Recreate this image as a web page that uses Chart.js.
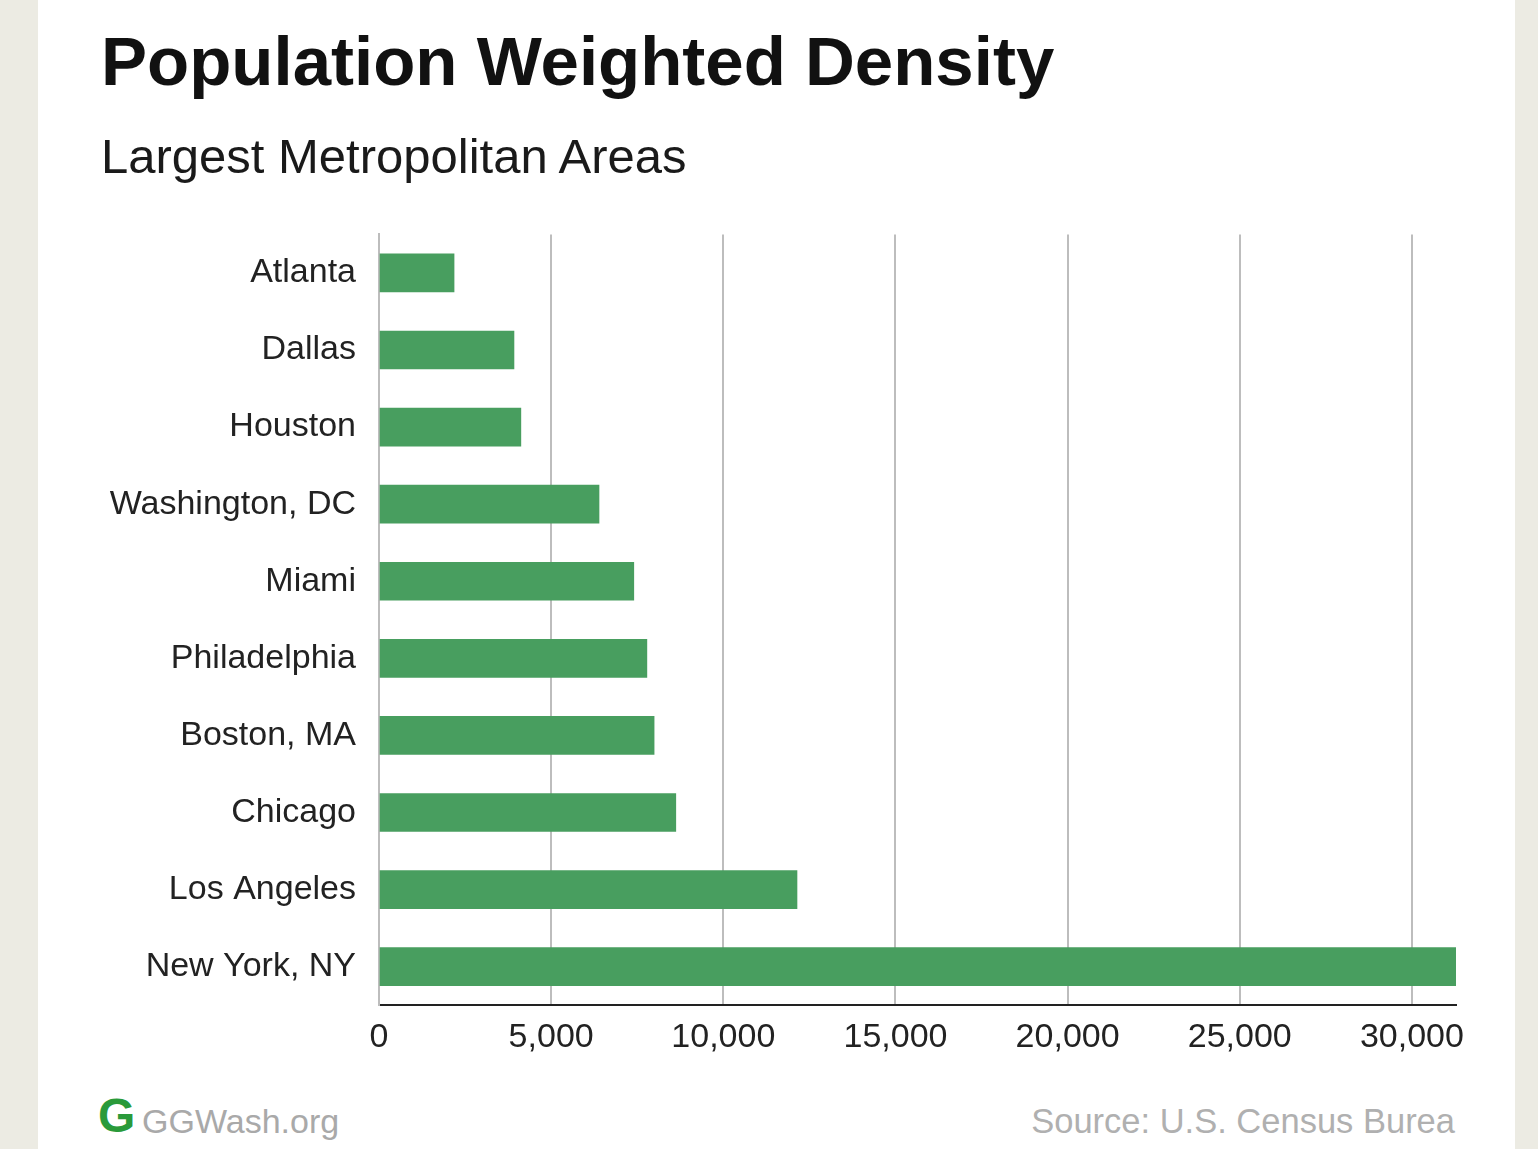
<!DOCTYPE html>
<html lang="en">
<head>
    <meta charset="UTF-8">
    <title>Population Weighted Density</title>
    <script src="https://cdn.jsdelivr.net/npm/chart.js"></script>
    <style>
        body { margin: 0; background: #ecebe3; font-family: "Liberation Sans", Arial, sans-serif; }
        #card { position: absolute; left: 38px; top: 0; width: 1477px; height: 1149px; background: #fff; }
        .txt { position: absolute; white-space: nowrap; }
        #title { left: 101px; top: 22px; font-size: 69px; font-weight: bold; color: #111; }
        #subtitle { left: 101px; top: 128px; font-size: 49px; color: #1a1a1a; }
        #logo { left: 98px; top: 1088px; font-size: 48px; font-weight: bold; color: #2a9a3a; }
        #site { left: 142px; top: 1102px; font-size: 34px; color: #a9a9a9; }
        #source { right: 83px; top: 1102px; font-size: 34.5px; color: #b0b0b0; }
        #wrap { position: absolute; left: 100px; top: 191px; width: 1380px; height: 879px; }
    </style>
</head>
<body>
    <div id="card"></div>
    <div class="txt" id="title">Population Weighted Density</div>
    <div class="txt" id="subtitle">Largest Metropolitan Areas</div>
    <div id="wrap"><canvas id="densityChart"></canvas></div>
    <div class="txt" id="logo">G</div>
    <div class="txt" id="site">GGWash.org</div>
    <div class="txt" id="source">Source: U.S. Census Burea</div>

    <script>
        // 도시 이름과 인구가중밀도
        const cities = ['Atlanta', 'Dallas', 'Houston', 'Washington, DC', 'Miami',
                        'Philadelphia', 'Boston, MA', 'Chicago', 'Los Angeles', 'New York, NY'];
        const density = [2180, 3920, 4120, 6390, 7400, 7780, 7990, 8620, 12140, 31280];
        const tickValues = [0, 5000, 10000, 15000, 20000, 25000, 30000];

        const ctx = document.getElementById('densityChart').getContext('2d');

        new Chart(ctx, {
            type: 'bar',
            data: {
                labels: cities,
                datasets: [{
                    data: density,
                    backgroundColor: '#489e5f',
                    barThickness: 38
                }]
            },
            options: {
                indexAxis: 'y',
                responsive: true,
                maintainAspectRatio: false,
                animation: false,
                layout: { padding: { top: 0, right: 24 } },
                plugins: {
                    legend: { display: false },
                    tooltip: { enabled: false }
                },
                scales: {
                    x: {
                        min: 0,
                        max: Math.max(...density),
                        afterBuildTicks: function(scale) {
                            // 5,000 단위 눈금만 사용
                            scale.ticks = tickValues.map(v => ({ value: v }));
                        },
                        ticks: {
                            padding: 12,
                            color: '#222',
                            font: { family: 'Liberation Sans', size: 34 },
                            callback: v => v.toLocaleString('en-US')
                        },
                        grid: { color: '#bdbdbd', lineWidth: 2, drawTicks: false },
                        border: { color: '#222', width: 2 }
                    },
                    y: {
                        afterFit: function(scale) { scale.width = 279; },
                        ticks: {
                            padding: 23,
                            color: '#222',
                            font: { family: 'Liberation Sans', size: 34 }
                        },
                        grid: { display: false, drawTicks: false },
                        border: { color: '#bdbdbd', width: 2 }
                    }
                }
            }
        });
    </script>
</body>
</html>
